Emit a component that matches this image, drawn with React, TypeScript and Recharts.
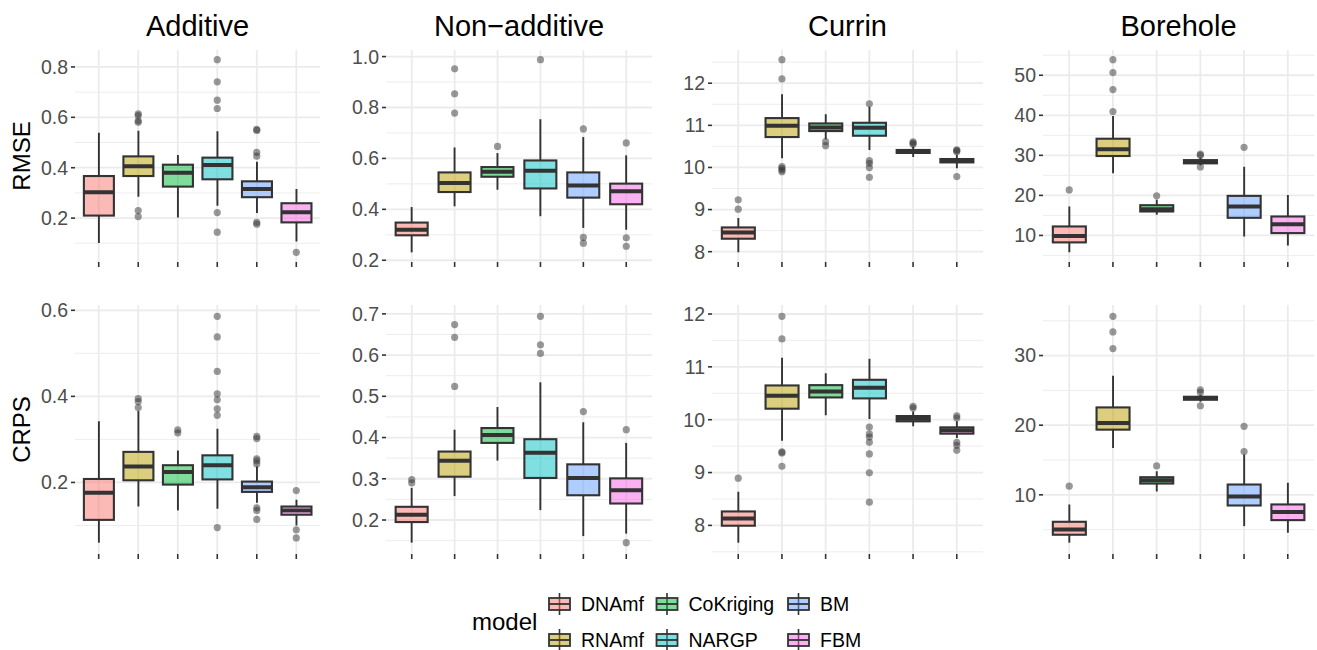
import React from 'react';
import { ComposedChart, Bar, Scatter, XAxis, YAxis, CartesianGrid } from 'recharts';

const models = ['DNAmf', 'RNAmf', 'CoKriging', 'NARGP', 'BM', 'FBM'];
const colors = ['#F8766D', '#B79F00', '#00BA38', '#00BFC4', '#619CFF', '#F564E3'];

const problems = ['Additive', 'Non\u2212additive', 'Currin', 'Borehole'];
const metrics = ['RMSE', 'CRPS'];

// box stats per model: [lower whisker, q1, median, q3, upper whisker]
const additiveRmse = [
  [0.101, 0.21, 0.303, 0.367, 0.539],
  [0.285, 0.367, 0.406, 0.445, 0.547],
  [0.202, 0.325, 0.38, 0.412, 0.45],
  [0.249, 0.354, 0.411, 0.44, 0.545],
  [0.22, 0.283, 0.316, 0.346, 0.424],
  [0.107, 0.183, 0.223, 0.259, 0.316],
];
const additiveRmseOut = [
  [],
  [0.614, 0.607, 0.586, 0.58, 0.23, 0.206],
  [],
  [0.829, 0.741, 0.668, 0.635, 0.222, 0.144],
  [0.552, 0.548, 0.461, 0.446, 0.183, 0.176],
  [0.064],
];

const nonAdditiveRmse = [
  [0.231, 0.298, 0.32, 0.348, 0.409],
  [0.412, 0.468, 0.503, 0.545, 0.643],
  [0.477, 0.528, 0.548, 0.566, 0.621],
  [0.373, 0.482, 0.552, 0.592, 0.754],
  [0.327, 0.446, 0.494, 0.545, 0.684],
  [0.32, 0.42, 0.471, 0.501, 0.612],
];
const nonAdditiveRmseOut = [
  [],
  [0.952, 0.854, 0.778],
  [0.647],
  [0.988],
  [0.716, 0.29, 0.267],
  [0.661, 0.288, 0.255],
];

const currinRmse = [
  [7.984, 8.308, 8.458, 8.576, 8.8],
  [10.217, 10.722, 10.99, 11.172, 11.74],
  [10.667, 10.864, 10.951, 11.045, 11.266],
  [10.414, 10.753, 10.943, 11.061, 11.44],
  [10.25, 10.345, 10.38, 10.415, 10.5],
  [9.98, 10.12, 10.16, 10.2, 10.3],
];
const currinRmseOut = [
  [9.231, 9.01],
  [12.56, 12.103, 10.02, 9.98, 9.94, 9.9],
  [10.611, 10.517],
  [11.511, 10.162, 10.1, 9.996, 9.767],
  [10.61, 10.58, 10.55],
  [10.42, 10.4, 10.37, 9.783],
];

const boreholeRmse = [
  [5.77, 8.26, 9.83, 12.24, 17.2],
  [25.52, 29.83, 31.49, 34.15, 39.8],
  [15.15, 15.98, 16.56, 17.55, 18.88],
  [27.5, 28.0, 28.4, 28.8, 29.4],
  [9.75, 14.4, 17.22, 19.88, 27.18],
  [7.51, 10.58, 12.82, 14.73, 20.12],
];
const boreholeRmseOut = [
  [21.37],
  [53.9, 50.66, 46.43, 40.95],
  [19.88],
  [30.3, 30.0, 27.1],
  [31.99],
  [],
];

const additiveCrps = [
  [0.06, 0.113, 0.176, 0.208, 0.342],
  [0.144, 0.205, 0.237, 0.271, 0.366],
  [0.135, 0.195, 0.224, 0.24, 0.274],
  [0.139, 0.207, 0.24, 0.263, 0.325],
  [0.153, 0.178, 0.189, 0.202, 0.237],
  [0.1, 0.125, 0.135, 0.144, 0.16],
];
const additiveCrpsOut = [
  [],
  [0.395, 0.388, 0.374],
  [0.322, 0.315],
  [0.586, 0.538, 0.458, 0.406, 0.392, 0.371, 0.356, 0.095],
  [0.307, 0.302, 0.255, 0.25, 0.243, 0.141, 0.135, 0.114],
  [0.181, 0.09, 0.071],
];

const nonAdditiveCrps = [
  [0.145, 0.195, 0.213, 0.232, 0.278],
  [0.258, 0.305, 0.344, 0.366, 0.419],
  [0.344, 0.387, 0.406, 0.423, 0.474],
  [0.224, 0.302, 0.363, 0.396, 0.534],
  [0.161, 0.26, 0.302, 0.335, 0.437],
  [0.167, 0.24, 0.272, 0.301, 0.387],
];
const nonAdditiveCrpsOut = [
  [0.298, 0.29],
  [0.674, 0.643, 0.524],
  [],
  [0.694, 0.625, 0.604],
  [0.463],
  [0.419, 0.145],
];

const currinCrps = [
  [7.673, 7.994, 8.132, 8.264, 8.635],
  [9.604, 10.208, 10.453, 10.648, 11.17],
  [10.082, 10.421, 10.535, 10.654, 10.88],
  [10.013, 10.403, 10.604, 10.755, 11.151],
  [9.874, 9.969, 10.019, 10.069, 10.157],
  [9.654, 9.736, 9.799, 9.855, 9.969],
];
const currinCrpsOut = [
  [8.893],
  [11.956, 11.528, 9.39, 9.371, 9.119],
  [],
  [9.862, 9.73, 9.673, 9.572, 9.352, 8.994, 8.44],
  [10.252, 10.22],
  [10.075, 10.03, 9.572, 9.516, 9.421],
];

const boreholeCrps = [
  [3.13, 4.27, 5.04, 6.13, 8.62],
  [16.73, 19.36, 20.31, 22.55, 27.09],
  [10.48, 11.62, 12.1, 12.53, 13.39],
  [23.37, 23.65, 23.89, 24.08, 24.37],
  [5.51, 8.47, 9.76, 11.48, 15.78],
  [4.56, 6.37, 7.52, 8.62, 11.72],
];
const boreholeCrpsOut = [
  [11.24],
  [35.63, 33.39, 31.0],
  [14.15],
  [25.08, 24.7, 22.79],
  [19.83, 16.21],
  [],
];

// y-axis breaks
const ticksProp = [0.2, 0.4, 0.6, 0.8];
const ticksUnit = [0.2, 0.4, 0.6, 0.8, 1.0];
const ticksCurrin = [8, 9, 10, 11, 12];
const ticksBoreholeRmse = [10, 20, 30, 40, 50];
const ticksCrpsAdd = [0.2, 0.4, 0.6];
const ticksTenth = [0.2, 0.3, 0.4, 0.5, 0.6, 0.7];
const ticksBoreholeCrps = [10, 20, 30];

const font = '"Liberation Sans", Arial, Helvetica, sans-serif';
const columns = [
  { x: 75, w: 245 },
  { x: 386, w: 266 },
  { x: 712, w: 271 },
  { x: 1043, w: 271 },
];
const rowBands = [
  { y: 50, h: 212 },
  { y: 305, h: 249 },
];
const AXIS_W = 70;
const TOP_PAD = 12;

const panels = [
  { col: 0, row: 0, stats: additiveRmse, out: additiveRmseOut, ticks: ticksProp, step: 0.2, digits: 1 },
  { col: 1, row: 0, stats: nonAdditiveRmse, out: nonAdditiveRmseOut, ticks: ticksUnit, step: 0.2, digits: 1 },
  { col: 2, row: 0, stats: currinRmse, out: currinRmseOut, ticks: ticksCurrin, step: 1, digits: 0 },
  { col: 3, row: 0, stats: boreholeRmse, out: boreholeRmseOut, ticks: ticksBoreholeRmse, step: 10, digits: 0 },
  { col: 0, row: 1, stats: additiveCrps, out: additiveCrpsOut, ticks: ticksCrpsAdd, step: 0.2, digits: 1 },
  { col: 1, row: 1, stats: nonAdditiveCrps, out: nonAdditiveCrpsOut, ticks: ticksTenth, step: 0.1, digits: 1 },
  { col: 2, row: 1, stats: currinCrps, out: currinCrpsOut, ticks: ticksCurrin, step: 1, digits: 0 },
  { col: 3, row: 1, stats: boreholeCrps, out: boreholeCrpsOut, ticks: ticksBoreholeCrps, step: 10, digits: 0 },
];

function BoxShape(props: any) {
  const { x, y, width, height, payload } = props;
  if (!payload || y == null) return <g />;
  const top = Math.min(y, y + height);
  const h = Math.abs(height);
  const { lo, q1, med, q3, hi, color } = payload;
  // linear scale inside the whisker range
  const py = (v: number) => (hi === lo ? top : top + (h * (hi - v)) / (hi - lo));
  const cx = x + width / 2;
  return (
    <g>
      <line x1={cx} x2={cx} y1={py(hi)} y2={py(q3)} stroke="#333333" strokeWidth={1.9} />
      <line x1={cx} x2={cx} y1={py(q1)} y2={py(lo)} stroke="#333333" strokeWidth={1.9} />
      <rect
        x={x}
        y={py(q3)}
        width={width}
        height={Math.max(py(q1) - py(q3), 0.5)}
        fill={color}
        fillOpacity={0.5}
        stroke="#333333"
        strokeWidth={2.1}
      />
      <line x1={x} x2={x + width} y1={py(med)} y2={py(med)} stroke="#333333" strokeWidth={4} />
    </g>
  );
}

function OutlierDot(props: any) {
  const { cx, cy } = props;
  if (cx == null || cy == null || Number.isNaN(cx) || Number.isNaN(cy)) return <g />;
  return <circle cx={cx} cy={cy} r={3.6} fill="#333333" fillOpacity={0.5} />;
}

function BoxPanel({ panel }: any) {
  const { stats, out, ticks, step, digits } = panel;
  const col = columns[panel.col];
  const band = rowBands[panel.row];

  const rows = models.map((m, i) => {
    const [lo, q1, med, q3, hi] = stats[i];
    const row: any = { model: m, lo, q1, med, q3, hi, range: [lo, hi], color: colors[i] };
    out[i].forEach((v: number, k: number) => {
      row['o' + k] = v;
    });
    return row;
  });
  const nOut = Math.max(...out.map((o: number[]) => o.length));

  const all = [...stats.flat(), ...out.flat()];
  const vmin = Math.min(...all);
  const vmax = Math.max(...all);
  const pad = (vmax - vmin) * 0.05;
  const domain = [vmin - pad, vmax + pad];
  const minor = [];
  for (let v = ticks[0] - step * 1.5; v <= domain[1]; v += step) {
    if (v >= domain[0]) minor.push(+v.toFixed(4));
  }
  const xPad = col.w / 62;

  return (
    <div style={{ position: 'absolute', left: col.x - AXIS_W, top: band.y - TOP_PAD }}>
      <ComposedChart
        width={col.w + AXIS_W}
        height={band.h + 8 + TOP_PAD}
        data={rows}
        margin={{ top: TOP_PAD, right: 0, bottom: 0, left: 0 }}
        barCategoryGap="12.5%"
      >
        <CartesianGrid stroke="#EBEBEB" strokeWidth={0.9} vertical={false} horizontalValues={minor} />
        <CartesianGrid stroke="#EBEBEB" strokeWidth={1.8} horizontalValues={ticks} verticalValues={models} />
        <XAxis
          dataKey="model"
          type="category"
          height={8}
          tickSize={5}
          axisLine={false}
          tickLine={{ stroke: '#333333', strokeWidth: 1.6 }}
          tick={() => <g />}
          interval={0}
          padding={{ left: xPad, right: xPad }}
        />
        <YAxis
          type="number"
          domain={domain}
          allowDataOverflow
          ticks={ticks}
          interval={0}
          width={AXIS_W}
          tickSize={4}
          tickMargin={3}
          axisLine={false}
          tickLine={{ stroke: '#333333', strokeWidth: 1.6 }}
          tick={{ fontSize: 19.5, fill: '#4D4D4D', fontFamily: font }}
          tickFormatter={(v: number) => v.toFixed(digits)}
        />
        <Bar dataKey="range" shape={<BoxShape />} isAnimationActive={false} />
        {Array.from({ length: nOut }, (_, k) => (
          <Scatter key={k} dataKey={'o' + k} shape={<OutlierDot />} isAnimationActive={false} />
        ))}
      </ComposedChart>
    </div>
  );
}

const legendCols = [549, 656.5, 788];
const legendRows = [604, 640];

function LegendKey({ x, y, color }: any) {
  return (
    <g>
      <line x1={x + 10.5} x2={x + 10.5} y1={y - 11} y2={y + 11} stroke="#333333" strokeWidth={1.6} />
      <rect x={x} y={y - 6} width={21} height={12} fill={color} fillOpacity={0.5} stroke="#333333" strokeWidth={1.8} />
      <line x1={x} x2={x + 21} y1={y} y2={y} stroke="#333333" strokeWidth={1.8} />
    </g>
  );
}

export default function App() {
  return (
    <div style={{ position: 'absolute', left: 0, top: 0, width: 1317, height: 650, background: '#fff', fontFamily: font }}>
      {panels.map((p, i) => (
        <BoxPanel key={i} panel={p} />
      ))}
      <svg width={1317} height={650} style={{ position: 'absolute', left: 0, top: 0, pointerEvents: 'none' }}>
        {problems.map((t, i) => (
          <text key={t} x={columns[i].x + columns[i].w / 2} y={36} textAnchor="middle" fontSize={29} fontFamily={font} fill="#000">
            {t}
          </text>
        ))}
        {metrics.map((m, i) => {
          const cy = rowBands[i].y + rowBands[i].h / 2;
          return (
            <text key={m} x={30} y={cy} transform={`rotate(-90 30 ${cy})`} textAnchor="middle" fontSize={24} fontFamily={font} fill="#000">
              {m}
            </text>
          );
        })}
        <text x={472} y={630} fontSize={24} fontFamily={font} fill="#000">model</text>
        {models.map((m, i) => {
          const cx = legendCols[Math.floor(i / 2)];
          const cy = legendRows[i % 2];
          return (
            <g key={m}>
              <LegendKey x={cx} y={cy} color={colors[i]} />
              <text x={cx + 32} y={cy + 7} fontSize={19.5} fontFamily={font} fill="#000">
                {m}
              </text>
            </g>
          );
        })}
      </svg>
    </div>
  );
}
